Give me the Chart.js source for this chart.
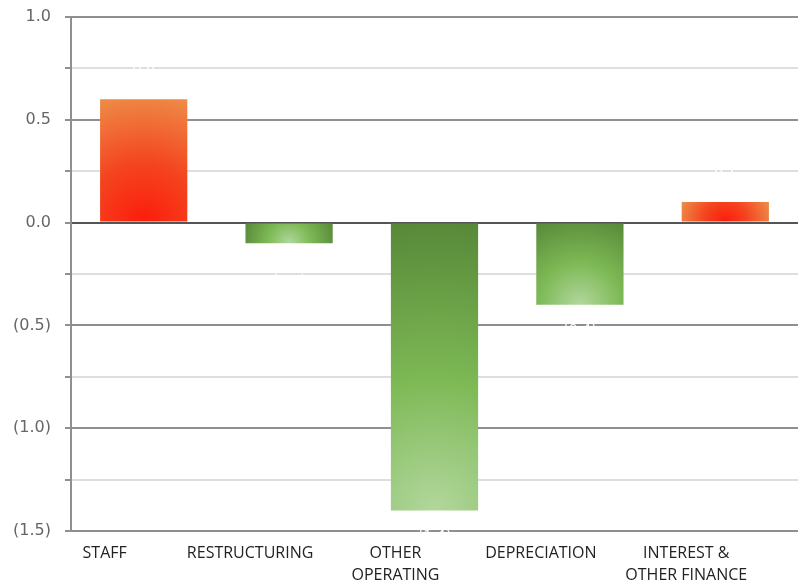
<!DOCTYPE html>
<html>
<head>
<meta charset="utf-8">
<script src="https://cdn.jsdelivr.net/npm/chart.js@4/dist/chart.umd.min.js"></script>
<style>
  html, body { margin: 0; padding: 0; background: #fff; }
  #wrap { width: 798px; height: 584px; }
</style>
</head>
<body>
<div id="wrap"><canvas id="chart" width="798" height="584"></canvas></div>
<script>
// Chart data
const categories = ["STAFF", "RESTRUCTURING", ["OTHER", "OPERATING"], "DEPRECIATION", ["INTEREST &", "OTHER FINANCE"]];
const values = [0.6, -0.1, -1.4, -0.4, 0.1];
const valueLabels = ["0.6", "(0.1)", "(1.4)", "(0.4)", "0.1"];
const yMin = -1.5;
const yMax = 1.0;

// format like accounts: negatives in brackets
function fmt(v) {
  const s = Math.abs(v).toFixed(1);
  return v < 0 ? "(" + s + ")" : s;
}

function isMajor(v) {
  return Math.abs(Math.round(v * 2) - v * 2) < 1e-6;
}

// radial gradient from the bar's lower edge
function barFill(ctx) {
  const chart = ctx.chart;
  const v = values[ctx.dataIndex];
  if (!chart.chartArea || ctx.type !== "data") return v >= 0 ? "#F24A25" : "#76AE50";
  const xs = chart.scales.x, ys = chart.scales.y;
  const xc = xs.getPixelForValue(ctx.dataIndex);
  const y0 = ys.getPixelForValue(0), y1 = ys.getPixelForValue(v);
  const w = xs.width / values.length * 0.6;
  const cy = Math.max(y0, y1);
  const h = Math.abs(y1 - y0);
  const r = Math.sqrt((w / 2) * (w / 2) + h * h);
  const g = chart.ctx.createRadialGradient(xc, cy, 0, xc, cy, r);
  if (v >= 0) {
    g.addColorStop(0, "#FC1C0A");
    g.addColorStop(0.45, "#F4441F");
    g.addColorStop(1, "#EE8C48");
  } else {
    g.addColorStop(0, "#B2D79D");
    g.addColorStop(0.45, "#7DB955");
    g.addColorStop(1, "#578838");
  }
  return g;
}

// white value labels (barely visible, they just cut the gridlines)
const valueLabelPlugin = {
  id: "valueLabels",
  afterDatasetsDraw(chart) {
    const c = chart.ctx;
    const xs = chart.scales.x, ys = chart.scales.y;
    c.save();
    c.fillStyle = "#ffffff";
    c.font = "14px 'DejaVu Sans'";
    c.textAlign = "center";
    c.textBaseline = "middle";
    values.forEach((v, i) => {
      const y = ys.getPixelForValue(v) + (v >= 0 ? -31 : 26);
      c.fillText(valueLabels[i], xs.getPixelForValue(i), y);
    });
    c.restore();
  }
};

// category labels sit a bit left of the bar centres in the original
const labelShift = -39;
const shiftLabelsPlugin = {
  id: "shiftLabels",
  beforeDraw(chart) {
    const items = chart.scales.x.getLabelItems();
    items.forEach(it => {
      if (!it._shifted) {
        it.options.translation[0] += labelShift;
        it._shifted = true;
      }
    });
  }
};

new Chart(document.getElementById("chart"), {
  type: "bar",
  data: {
    labels: categories,
    datasets: [{
      data: values,
      backgroundColor: barFill,
      borderWidth: 0,
      barPercentage: 0.6,
      categoryPercentage: 1.0
    }]
  },
  options: {
    responsive: false,
    animation: false,
    layout: { padding: { top: 17, right: 0, left: 0, bottom: 0 } },
    plugins: { legend: { display: false }, tooltip: { enabled: false } },
    scales: {
      x: {
        grid: { display: false, drawTicks: false },
        border: { display: false },
        ticks: {
          color: "#222",
          font: { family: "'Open Sans'", size: 16, lineHeight: 1.4 },
          padding: 11,
          maxRotation: 0,
          autoSkip: false
        },
        afterFit(scale) {
          scale.height = 53;
          scale.paddingLeft = 0;
          scale.paddingRight = 0;
        }
      },
      y: {
        min: yMin,
        max: yMax,
        grid: {
          color: (c) => {
            const v = c.tick ? c.tick.value : 0;
            if (Math.abs(v) < 1e-6) return "#555555";
            return isMajor(v) ? "#8f8f8f" : "#dedede";
          },
          lineWidth: 2,
          tickLength: 6,
          tickColor: "#8f8f8f"
        },
        border: { display: true, color: "#8f8f8f", width: 2 },
        ticks: {
          stepSize: 0.25,
          color: "#666",
          font: { family: "'DejaVu Sans'", size: 16 },
          padding: 14,
          callback: (v) => isMajor(v) ? fmt(v) : ""
        },
        afterFit(scale) {
          scale.width = 71;
          scale.paddingTop = 0;
          scale.paddingBottom = 0;
        }
      }
    }
  },
  plugins: [valueLabelPlugin, shiftLabelsPlugin]
});
</script>
</body>
</html>
